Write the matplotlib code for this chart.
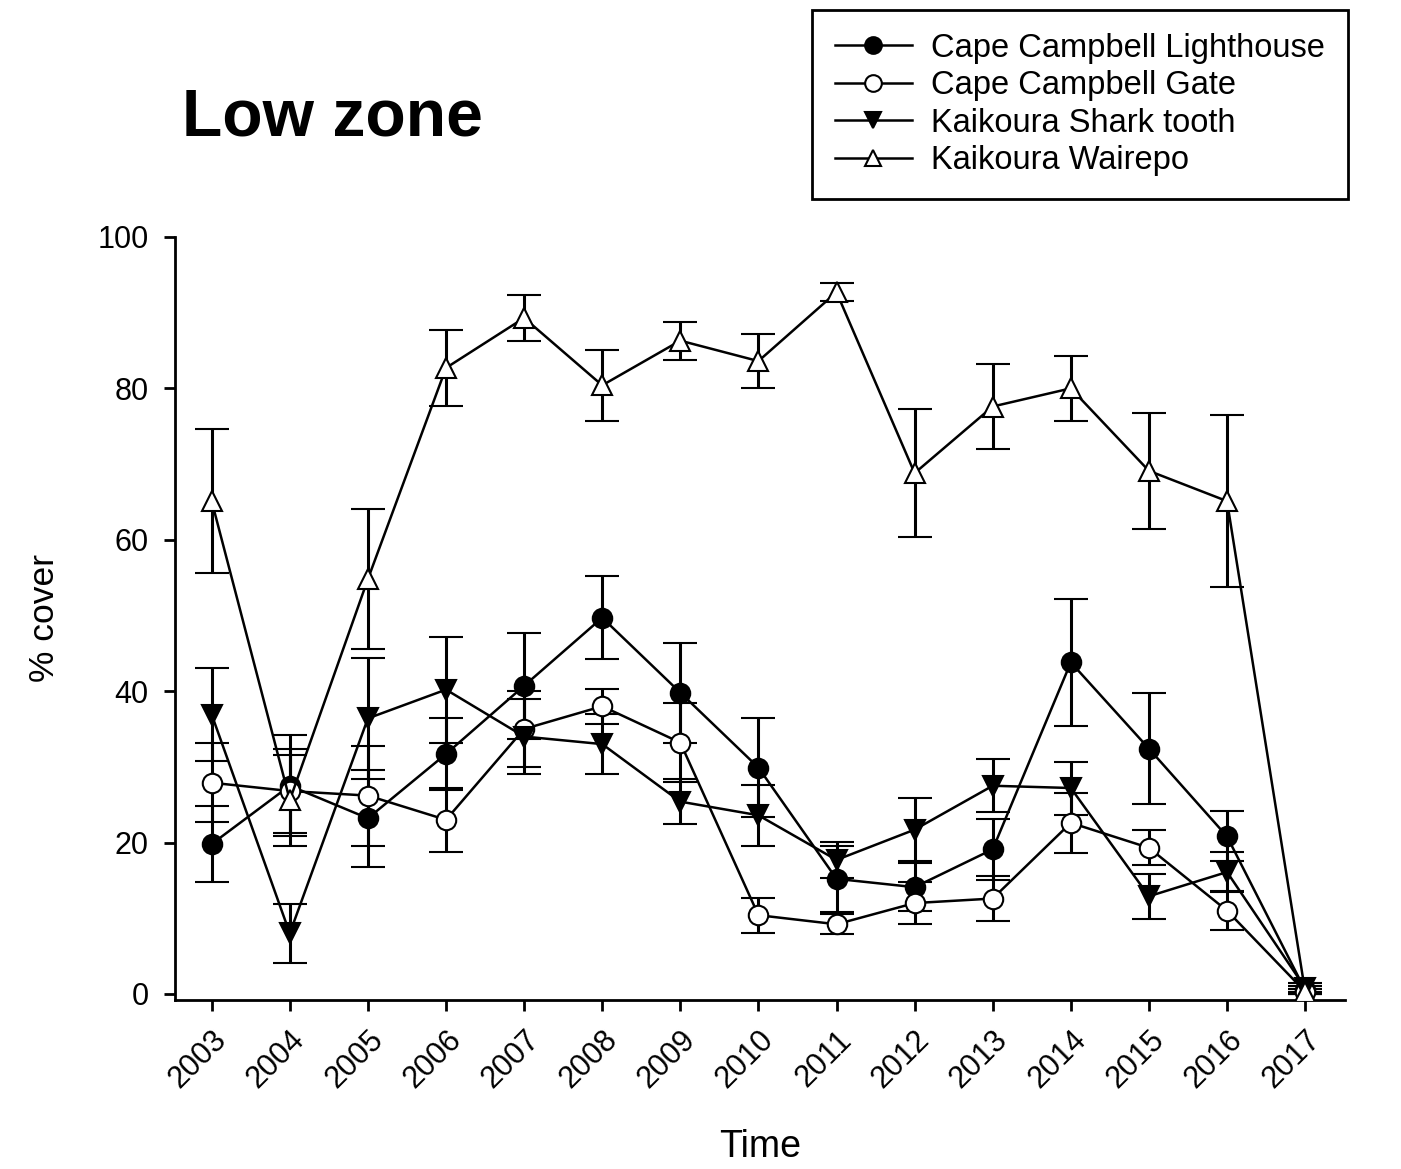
import matplotlib
matplotlib.use("Agg")
import matplotlib.pyplot as plt
from matplotlib.lines import Line2D

years = [2003, 2004, 2005, 2006, 2007, 2008, 2009, 2010, 2011, 2012, 2013, 2014, 2015, 2016, 2017]

lighthouse = [19.8, 27.5, 23.2, 31.7, 40.7, 49.7, 39.8, 29.9, 15.2, 14.1, 19.1, 43.8, 32.4, 20.8, 0.5]
lighthouse_err = [5.0, 6.7, 6.4, 4.8, 7.0, 5.5, 6.6, 6.5, 4.4, 3.2, 4.0, 8.4, 7.3, 3.3, 0.5]

gate = [27.9, 26.8, 26.2, 23.0, 35.0, 38.0, 33.2, 10.4, 9.2, 12.0, 12.6, 22.6, 19.3, 11.0, 0.3]
gate_err = [5.2, 5.5, 6.6, 4.2, 5.0, 2.3, 5.2, 2.3, 1.3, 2.8, 3.0, 4.0, 2.3, 2.6, 0.3]

sharktooth = [36.9, 8.0, 36.4, 40.2, 34.0, 33.0, 25.4, 23.6, 17.7, 21.7, 27.5, 27.2, 12.9, 16.1, 0.8]
sharktooth_err = [6.1, 3.9, 8.0, 7.0, 5.0, 4.0, 3.0, 4.0, 2.4, 4.2, 3.5, 3.5, 3.0, 2.7, 0.6]

wairepo = [65.1, 25.6, 54.8, 82.7, 89.3, 80.4, 86.3, 83.6, 92.7, 68.8, 77.6, 80.0, 69.1, 65.1, 0.3]
wairepo_err = [9.5, 6.0, 9.3, 5.0, 3.0, 4.7, 2.5, 3.6, 1.2, 8.5, 5.6, 4.3, 7.7, 11.4, 0.3]

series_names = ["Cape Campbell Lighthouse", "Cape Campbell Gate",
                "Kaikoura Shark tooth", "Kaikoura Wairepo"]

plt.rcParams['font.family'] = ['Liberation Sans', 'DejaVu Sans']

fig = plt.figure(figsize=(14.01, 11.69), dpi=100)
ax = fig.add_axes([0.1249, 0.1446, 0.8351, 0.6527])

styles = [
    dict(marker='o', mfc='black'),
    dict(marker='o', mfc='white'),
    dict(marker='v', mfc='black'),
    dict(marker='^', mfc='white'),
]
data = [(lighthouse, lighthouse_err), (gate, gate_err),
        (sharktooth, sharktooth_err), (wairepo, wairepo_err)]

handles = []
for (vals, errs), st, name in zip(data, styles, series_names):
    ax.errorbar(years, vals, yerr=errs, color='black', lw=1.8,
                elinewidth=2.2, capsize=12, capthick=2.2,
                marker=st['marker'], mfc=st['mfc'], mec='black', mew=1.5,
                ms=14, zorder=3)
    handles.append(Line2D([], [], color='black', lw=1.8, marker=st['marker'],
                          mfc=st['mfc'], mec='black', mew=1.5, ms=12))

ax.set_xlim(2002.53, 2017.51)
ax.set_ylim(-0.8, 100)
ax.set_yticks([0, 20, 40, 60, 80, 100])
ax.set_xticks(years)
ax.set_xticklabels([str(y) for y in years], rotation=45, ha='right',
                   rotation_mode='anchor')
ax.spines['top'].set_visible(False)
ax.spines['right'].set_visible(False)
ax.spines['left'].set_linewidth(2)
ax.spines['bottom'].set_linewidth(2)
ax.tick_params(axis='both', direction='out', length=8, width=2,
               labelsize=22)
ax.tick_params(axis='y', pad=11)
ax.tick_params(axis='x', pad=10)
ax.set_xlabel("Time", fontsize=27, labelpad=25)
ax.set_ylabel("% cover", fontsize=25.5, labelpad=26)

fig.text(0.130, 1 - 118 / 1169, "Low zone", fontsize=47.5, fontweight='bold',
         ha='left', va='center')

leg = fig.legend(handles, series_names, loc='upper left',
                 bbox_to_anchor=(812 / 1401, 1 - 10 / 1169),
                 fontsize=23.5, frameon=True, fancybox=False, framealpha=1,
                 handlelength=2.35, handletextpad=0.6, labelspacing=0.2,
                 borderpad=0.7, borderaxespad=0)
leg.get_frame().set_edgecolor('black')
leg.get_frame().set_linewidth(2)

fig.savefig("out.png", dpi=100)
